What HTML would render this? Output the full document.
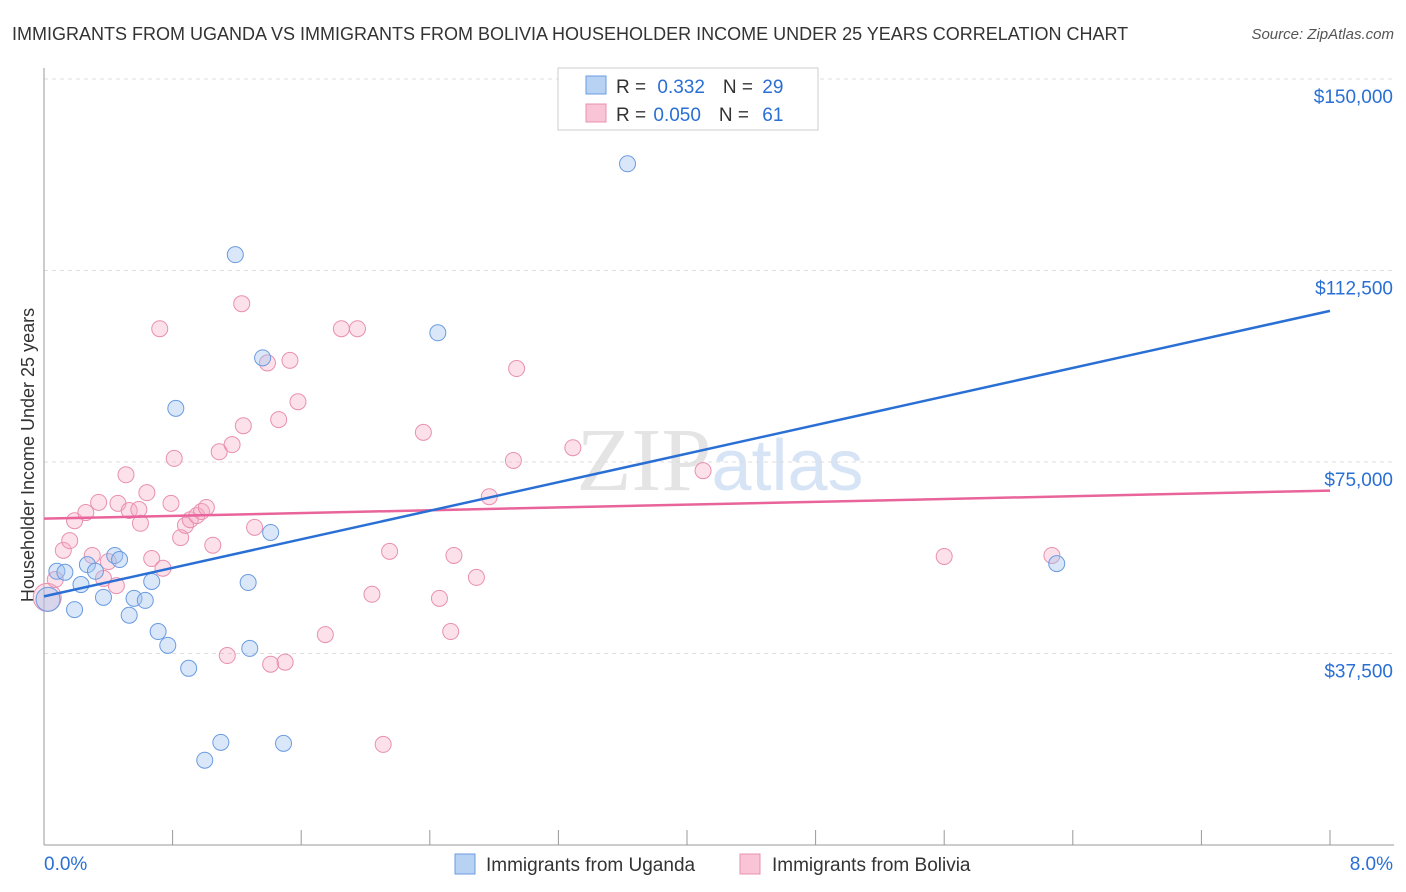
<!DOCTYPE html>
<html><head><meta charset="utf-8"><style>
body{margin:0;background:#fff;font-family:"Liberation Sans",sans-serif;}
svg{display:block}
</style></head><body>
<svg id="c" width="1406" height="892" xmlns="http://www.w3.org/2000/svg">
<text x="12" y="40" font-size="18" fill="#333">IMMIGRANTS FROM UGANDA VS IMMIGRANTS FROM BOLIVIA HOUSEHOLDER INCOME UNDER 25 YEARS CORRELATION CHART</text>
<text x="1394" y="39" font-size="15" fill="#555" font-style="italic" text-anchor="end">Source: ZipAtlas.com</text>
<text x="720" y="490" font-size="90" fill="#e4e4e4" text-anchor="middle" font-family="Liberation Serif,serif">ZIP<tspan fill="#d6e4f5" font-family="Liberation Sans,sans-serif" font-size="72">atlas</tspan></text>
<g id="grid"></g>
<g id="axes"></g>
<text transform="translate(34,455) rotate(-90)" font-size="18" fill="#333" text-anchor="middle">Householder Income Under 25 years</text>
<g id="pts"></g>
<g id="lines"></g>
<g>
<rect x="558" y="68" width="260" height="62" fill="#fff" stroke="#ccc"/>
<rect x="586" y="76" width="20" height="18" fill="#b8d2f4" stroke="#6a9be0"/>
<rect x="586" y="104" width="20" height="18" fill="#f8c4d6" stroke="#e890b0"/>
<text x="616" y="93" font-size="19" fill="#333">R = <tspan fill="#2a6fd4" dx="6">0.332</tspan><tspan dx="18">N = </tspan><tspan fill="#2a6fd4" dx="4">29</tspan></text>
<text x="616" y="121" font-size="19" fill="#333">R = <tspan fill="#2a6fd4" dx="2">0.050</tspan><tspan dx="18">N = </tspan><tspan fill="#2a6fd4" dx="8">61</tspan></text>
</g>
<g>
<rect x="455" y="854" width="20" height="20" fill="#b8d2f4" stroke="#6a9be0"/>
<text x="486" y="871" font-size="19" fill="#333">Immigrants from Uganda</text>
<rect x="740" y="854" width="20" height="20" fill="#f8c4d6" stroke="#e890b0"/>
<text x="772" y="871" font-size="19" fill="#333">Immigrants from Bolivia</text>
</g>
</svg>
<script>
const yTicks=[37500,75000,112500,150000];
const yTickLabels=["$37,500","$75,000","$112,500","$150,000"];
const xTickCount=10;
const xLabels=["0.0%","8.0%"];
const ugX=[0.025,0.08,0.13,0.19,0.23,0.27,0.32,0.37,0.44,0.47,0.53,0.56,0.63,0.67,0.71,0.77,0.82,0.90,1.0,1.10,1.19,1.27,1.28,1.36,1.41,1.49,2.45,3.63,6.30];
const ugY=[48100,53600,53400,46100,51000,54900,53600,48500,56700,55900,45000,48300,47900,51600,41800,39100,85500,34600,16600,20100,115600,51400,38500,95400,61200,19900,100300,133400,55100];
const boX=[0.02,0.07,0.12,0.16,0.19,0.26,0.30,0.34,0.37,0.40,0.45,0.46,0.51,0.53,0.59,0.60,0.64,0.67,0.72,0.74,0.79,0.81,0.85,0.88,0.91,0.95,0.98,1.01,1.05,1.09,1.14,1.17,1.23,1.24,1.31,1.39,1.41,1.46,1.50,1.53,1.58,1.75,1.85,1.95,2.04,2.11,2.15,2.36,2.46,2.53,2.55,2.69,2.77,2.92,2.94,3.29,4.10,5.60,6.27];
const boY=[48500,52000,57700,59600,63500,65100,56700,67100,52200,55500,50800,66900,72500,65500,65700,63000,69000,56100,101100,54200,66900,75700,60200,62600,63700,64500,65300,66100,58700,77000,37100,78400,106000,82100,62200,94400,35400,83300,35800,94900,86800,41200,101100,101100,49100,19700,57500,80800,48300,41800,56700,52400,68200,75300,93300,77800,73300,56500,56700];
const ugLine=[48680,104600];
const boLine=[63900,69400];
const X=v=>44+v/8*1286, Y=v=>845-v/150000*766;
const ns="http://www.w3.org/2000/svg";
function mk(t,a,p){const e=document.createElementNS(ns,t);for(const k in a)e.setAttribute(k,a[k]);p.appendChild(e);return e;}
const grid=document.getElementById('grid'),axes=document.getElementById('axes');
yTicks.forEach((v,i)=>{
 const l=mk('line',{x1:44,x2:1394,y1:Y(v),y2:Y(v),stroke:'#ddd','stroke-dasharray':'4,4'},grid);
 
 
 const t=mk('text',{x:1393,y:Y(v)+24,'font-size':19,fill:'#2a6fd4','text-anchor':'end'},axes);
 t.textContent=yTickLabels[i];
 
 
});
const ax=mk('line',{x1:44,x2:44,y1:68,y2:845,stroke:'#999'},axes);


const bx=mk('line',{x1:44,x2:1394,y1:845,y2:845,stroke:'#999'},axes);


for(let i=0;i<=xTickCount;i++){
 const tk=mk('line',{x1:X(i*0.8),x2:X(i*0.8),y1:830,y2:845,stroke:'#999'},axes);
 
 
}
const t0=mk('text',{x:44,y:870,'font-size':19,fill:'#2a6fd4'},axes);t0.textContent=xLabels[0];


const t1=mk('text',{x:1393,y:870,'font-size':19,fill:'#2a6fd4','text-anchor':'end'},axes);t1.textContent=xLabels[1];


const pts=document.getElementById('pts');
boX.forEach((x,i)=>{
 const c=mk('circle',{cx:X(x),cy:Y(boY[i]),r:i==0?14:8,fill:'rgba(245,170,195,0.35)',stroke:'#e890b0','stroke-width':1},pts);
 
 
});
ugX.forEach((x,i)=>{
 const c=mk('circle',{cx:X(x),cy:Y(ugY[i]),r:i==0?12:8,fill:'rgba(160,196,240,0.4)',stroke:'#6a9be0','stroke-width':1},pts);
 
 
});
const lines=document.getElementById('lines');
const l1=mk('line',{x1:X(0),x2:X(8),y1:Y(boLine[0]),y2:Y(boLine[1]),stroke:'#e8649a','stroke-width':2.5},lines);


const l2=mk('line',{x1:X(0),x2:X(8),y1:Y(ugLine[0]),y2:Y(ugLine[1]),stroke:'#2a6fd4','stroke-width':2.5},lines);


</script>
</body></html>
